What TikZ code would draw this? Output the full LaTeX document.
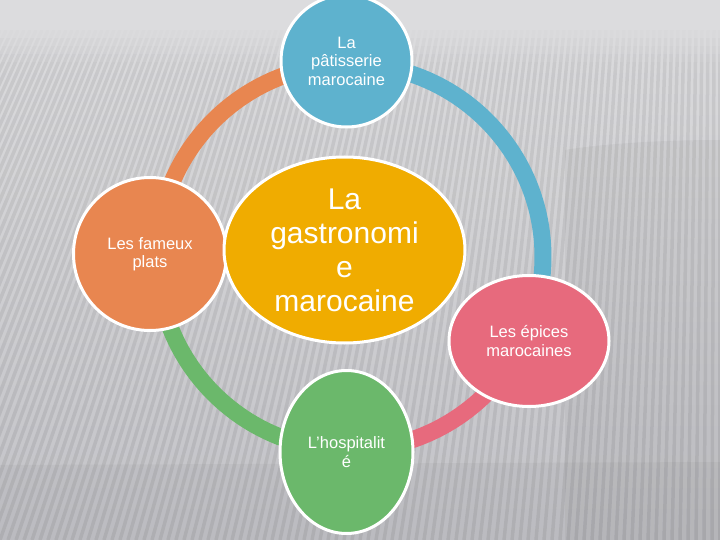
\documentclass[tikz,border=0pt]{standalone}
\usepackage{fontspec}
\setmainfont{Liberation Sans}
\usetikzlibrary{shapes.geometric}
\definecolor{bgtop}{RGB}{220,220,222}
\definecolor{bgmid}{RGB}{207,207,210}
\definecolor{bgbot}{RGB}{194,194,199}
\definecolor{corange}{RGB}{232,134,80}
\definecolor{cblue}{RGB}{94,178,206}
\definecolor{cpink}{RGB}{231,106,125}
\definecolor{cgreen}{RGB}{107,184,107}
\definecolor{cgold}{RGB}{240,172,0}
\pgfdeclarelayer{bglayer}
\pgfdeclarelayer{arclayer}
\pgfsetlayers{bglayer,arclayer,main}
\tikzset{
  bubble/.style={ellipse, draw=white, line width=3pt, inner sep=0pt,
    text=white, align=center, font=\fontsize{16.5}{18.5}\selectfont},
  ringarc/.style={line width=17pt},
  stripe/.style={draw=black, opacity=0.07, line width=3.5pt},
}
\begin{document}
\begin{tikzpicture}[x=1pt,y=-1pt]
\useasboundingbox (0,0) rectangle (720,540);
% background
\begin{pgfonlayer}{bglayer}
\shade[top color=bgtop, bottom color=bgbot, middle color=bgmid] (0,0) rectangle (720,540);
\begin{scope}
  \clip (0,30) rectangle (720,540);
  \foreach \i in {-40,...,95}{
    \pgfmathsetmacro{\xb}{\i*8}
    \pgfmathsetmacro{\xt}{\xb+180*(1-\xb/720)}
    \draw[stripe] (\xb,540) -- (\xt,30);
  }
\end{scope}
\foreach \k/\op in {0/0.85,1/0.65,2/0.45,3/0.25,4/0.1}{
  \fill[bgtop, opacity=\op] (0,{30+\k*8}) rectangle (720,{38+\k*8});
}
\fill[bgtop] (0,0) rectangle (720,30);
\fill[black, opacity=0.035] (565,150) .. controls (600,144) and (660,140) .. (720,140) -- (720,540) -- (565,540) -- cycle;
\fill[black, opacity=0.03] (0,465) -- (720,462) -- (720,540) -- (0,540) -- cycle;
\end{pgfonlayer}

% nodes
\coordinate (ring) at (350,257);
\node[bubble, fill=cblue, minimum width=131pt, minimum height=132pt] (top) at (346.5,61) {La\\pâtisserie\\marocaine};
\node[bubble, fill=corange, minimum width=153pt, minimum height=153pt] (left) at (150,254) {Les fameux\\plats};
\node[bubble, fill=cpink, minimum width=160pt, minimum height=131pt] (right) at (529,341) {Les épices\\marocaines};
\node[bubble, fill=cgreen, minimum width=133pt, minimum height=163pt] (bottom) at (346.5,452) {L'hospitalit\\é};
\node[bubble, fill=cgold, minimum width=241pt, minimum height=186pt,
  font=\fontsize{30}{34}\selectfont] (center) at (344.5,250) {La\\gastronomi\\e\\marocaine};

% ring arcs (behind the nodes)
\begin{pgfonlayer}{arclayer}
\draw[ringarc, corange] (ring) ++(181:193) arc[start angle=181, end angle=269, radius=193];
\draw[ringarc, cblue]   (ring) ++(269:193) arc[start angle=269, end angle=385, radius=193];
\draw[ringarc, cpink]   (ring) ++(25:193)  arc[start angle=25,  end angle=91,  radius=193];
\draw[ringarc, cgreen]  (ring) ++(91:193)  arc[start angle=91,  end angle=181, radius=193];
\end{pgfonlayer}
\end{tikzpicture}
\end{document}
